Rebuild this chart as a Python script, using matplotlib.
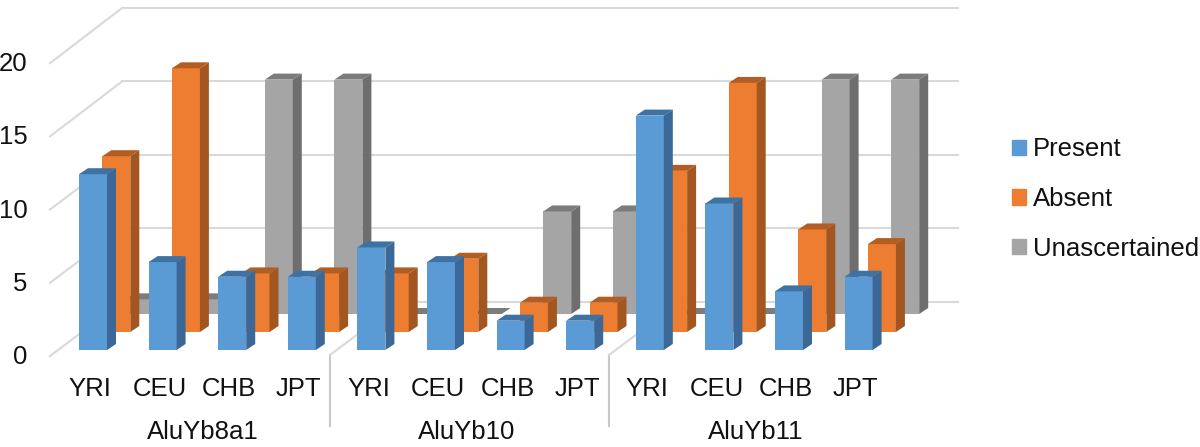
import matplotlib
matplotlib.use("Agg")
import matplotlib.pyplot as plt
from matplotlib.patches import Patch

plt.rcParams["font.family"] = ["Liberation Sans", "DejaVu Sans"]

groups = ["AluYb8a1", "AluYb10", "AluYb11"]
populations = ["YRI", "CEU", "CHB", "JPT"]
present = [12, 6, 5, 5, 7, 6, 2, 2, 16, 10, 4, 5]
absent = [12, 18, 4, 4, 4, 5, 2, 2, 11, 17, 7, 6]
unascertained = [1, 1, 16, 16, 0, 0, 7, 7, 0, 0, 16, 16]
y_ticks = [0, 5, 10, 15, 20]

W, H = 1200, 447
PX_X = 69.6  # px per category
PX_Y = 14.65  # px per unit
X0 = 93  # px of first blue bar centre
Y0 = 350  # px of zero on the front row

BAR_W = 28 / PX_X
SIDE_X, SIDE_Y = 9 / PX_X, 6 / PX_Y
ROW_X, ROW_Y = 23.3 / PX_X, 18 / PX_Y
FONT = 18.5

# colours for front, side, top
series = [
    ("Unascertained", unascertained, 2, "#A5A5A5", "#6E6E6E", "#7C7C7C"),
    ("Absent", absent, 1, "#ED7D31", "#A3561F", "#B25E22"),
    ("Present", present, 0, "#5B9BD5", "#3B6896", "#3E72A2"),
]

fig = plt.figure(figsize=(W / 100, H / 100), dpi=100)
ax = fig.add_axes([0, 0, 1, 1])
ax.set_xlim(-X0 / PX_X, (W - X0) / PX_X)
ax.set_ylim(-(H - Y0) / PX_Y, Y0 / PX_Y)
ax.axis("off")


def px(x):
    return (x - X0) / PX_X


def py(y):
    return (Y0 - y) / PX_Y


# back wall and left wall grid
grid = "#D9D9D9"
for i, t in enumerate(y_ticks):
    ax.plot([px(122), px(958)], [py(302 - 73.5 * i)] * 2, color=grid, lw=1.5, zorder=1)
    ax.plot([px(50), px(122)], [py(356 - 73.2 * i), py(302 - 73.5 * i)], color=grid, lw=1.5, zorder=1)
    ax.text(px(27.5), py(357 - 73.2 * i), str(t), ha="right", va="center", fontsize=FONT, color="#111111")

# group separators
for x in [330, 609]:
    ax.plot([px(x), px(x)], [py(426), py(355)], color="#C8C8C8", lw=1.5, zorder=1)
    ax.plot([px(x), px(x + 72)], [py(355), py(301)], color=grid, lw=1.5, zorder=1)

# bars, back row first
z = 2
for name, values, row, front, side, top in series:
    base = row * ROW_Y
    for i, v in enumerate(values):
        c = i + row * ROW_X
        left, right = c - BAR_W / 2, c + BAR_W / 2
        h = base + v
        ax.bar(c, v, BAR_W, bottom=base, color=front, linewidth=0, zorder=z)
        ax.fill([right, right + SIDE_X, right + SIDE_X, right],
                [base, base + SIDE_Y, h + SIDE_Y, h], color=side, lw=0, zorder=z)
        ax.fill([left, left + SIDE_X, right + SIDE_X, right],
                [h, h + SIDE_Y, h + SIDE_Y, h], color=top, lw=0, zorder=z)
    z += 1

# category labels
for i in range(len(present)):
    ax.text(i - 3 / PX_X, py(389), populations[i % 4], ha="center", va="center", fontsize=FONT, color="#111111")
for name, x in zip(groups, [203, 467, 756]):
    ax.text(px(x), py(432), name, ha="center", va="center", fontsize=FONT, color="#111111")

handles = [Patch(color=s[3], label=s[0]) for s in reversed(series)]
ax.legend(handles=handles, loc="center left", bbox_to_anchor=(1012 / W, 1 - 199 / H),
          frameon=False, fontsize=FONT, handlelength=0.54, handleheight=0.54,
          handletextpad=0.28, labelspacing=1.0, borderpad=0, borderaxespad=0, labelcolor="#111111")

fig.savefig("out.png", dpi=100)
